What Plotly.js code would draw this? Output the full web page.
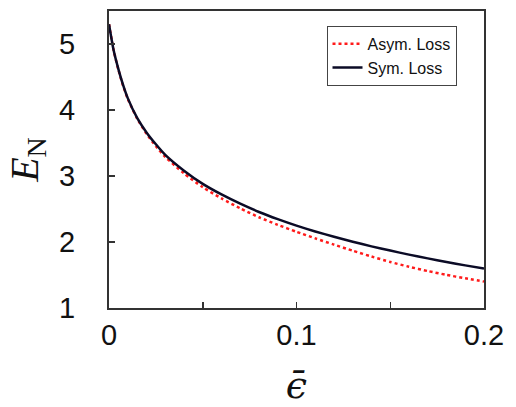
<!DOCTYPE html>
<html>
<head>
<meta charset="utf-8">
<script src="https://cdn.plot.ly/plotly-3.0.1.min.js"></script>
<style>html,body{margin:0;padding:0;background:#fff;}</style>
</head>
<body>
<div id="chart" style="width:516px;height:407px;"></div>
<script>
const epsBar = [0, 0.0025, 0.005, 0.0075, 0.01, 0.015, 0.02, 0.025, 0.03, 0.04, 0.05, 0.06, 0.07, 0.08, 0.09, 0.10, 0.11, 0.12, 0.13, 0.14, 0.15, 0.16, 0.17, 0.18, 0.19, 0.20];
const symLoss = [5.30, 4.90, 4.62, 4.38, 4.18, 3.88, 3.66, 3.48, 3.32, 3.08, 2.88, 2.72, 2.58, 2.455, 2.346, 2.248, 2.160, 2.079, 2.004, 1.934, 1.870, 1.809, 1.752, 1.697, 1.646, 1.597];
const asymLoss = [5.30, 4.90, 4.61, 4.37, 4.17, 3.87, 3.64, 3.45, 3.29, 3.04, 2.83, 2.66, 2.51, 2.375, 2.26, 2.155, 2.055, 1.96, 1.868, 1.78, 1.698, 1.625, 1.56, 1.502, 1.45, 1.40];
const xTickVals = [0, 0.1, 0.2];
const xTickText = ['0', '0.1', '0.2'];
const xMinorTickVals = [0.05, 0.15];
const yTickVals = [1, 2, 3, 4, 5];
const yTickText = ['1', '2', '3', '4', '5'];

const traces = [
  {x: epsBar, y: asymLoss, type: 'scatter', mode: 'lines', name: 'Asym. Loss',
   line: {color: '#ff1a1a', width: 2.5, dash: 'dot', shape: 'spline', smoothing: 0.6}},
  {x: epsBar, y: symLoss, type: 'scatter', mode: 'lines', name: 'Sym. Loss',
   line: {color: '#0b0b26', width: 2.5, shape: 'spline', smoothing: 0.6}}
];

const axisCommon = {
  showgrid: false, zeroline: false, showline: true, mirror: true,
  linecolor: '#333333', linewidth: 2, ticks: 'inside', ticklen: 6, tickwidth: 1.5,
  tickcolor: '#333333', tickfont: {family: 'Liberation Sans, Arial, sans-serif', size: 29, color: '#111'}
};

const layout = {
  width: 516, height: 407,
  margin: {l: 109, r: 32, t: 11, b: 99},
  paper_bgcolor: '#ffffff', plot_bgcolor: '#ffffff',
  showlegend: true,
  legend: {x: 0.58, y: 0.95, xanchor: 'left', yanchor: 'top',
    bgcolor: '#ffffff', bordercolor: '#444444', borderwidth: 1,
    font: {family: 'Liberation Sans, Arial, sans-serif', size: 16, color: '#111'},
    tracegroupgap: 0},
  xaxis: Object.assign({}, axisCommon, {
    range: [0, 0.2], tickmode: 'array', tickvals: xTickVals, ticktext: xTickText,
    minor: {tickvals: xMinorTickVals, ticks: 'inside', ticklen: 6, tickwidth: 1.5, tickcolor: '#333333', showgrid: false},
    ticklabelstandoff: 0,
    title: {text: '<i>\u03F5\u0304</i>', font: {family: 'DejaVu Serif, serif', size: 38, color: '#111'}, standoff: 30}
  }),
  yaxis: Object.assign({}, axisCommon, {
    range: [1, 5.5], tickmode: 'array', tickvals: yTickVals, ticktext: yTickText,
    ticklabelstandoff: 26,
    title: {text: '<i>E</i><sub>N</sub>', font: {family: 'Liberation Serif, Times New Roman, serif', size: 40, color: '#111'}, standoff: 8}
  })
};

Plotly.newPlot('chart', traces, layout, {displayModeBar: false, staticPlot: true});
</script>
</body>
</html>
